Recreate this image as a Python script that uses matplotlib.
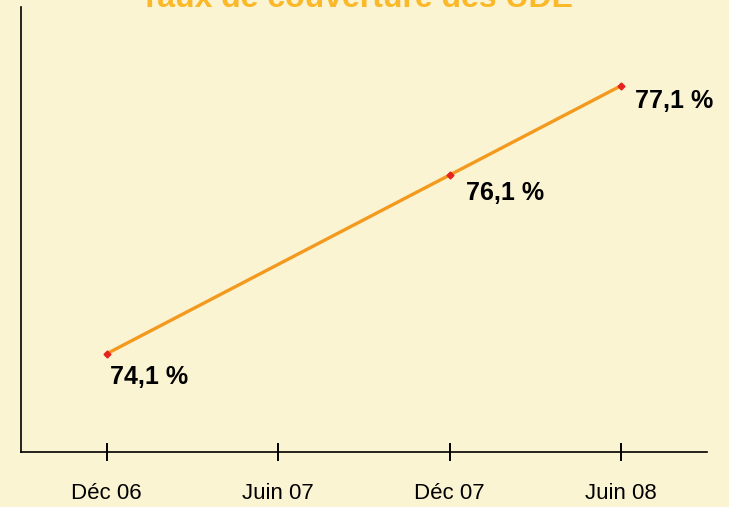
import matplotlib
matplotlib.use("Agg")
import matplotlib.pyplot as plt

# data
periods = ["Déc 06", "Juin 07", "Déc 07", "Juin 08"]
point_idx = [0, 2, 3]
values = [74.1, 76.1, 77.1]
labels = ["74,1 %", "76,1 %", "77,1 %"]
label_offsets = [(2, -17), (12, -13), (10, -11)]

bg = "#FAF4D3"
plt.rcParams['font.family'] = ['Liberation Sans', 'DejaVu Sans']

fig = plt.figure(figsize=(7.29, 5.07), dpi=100, facecolor=bg)
ax = fig.add_axes([21/729, 55/507, 686/729, 445/507])
ax.set_facecolor(bg)

ax.plot(point_idx, values, color="#F39A1E", lw=2.4, zorder=2)
ax.plot(point_idx, values, ls="none", marker="D", ms=3.5, color="#E5221E", zorder=3)

for i, v, lab, off in zip(point_idx, values, labels, label_offsets):
    ax.annotate(lab, (i, v), xytext=off, textcoords="offset points",
                ha="left", va="center", fontsize=18, fontweight="bold", color="black")

ax.set_xlim(-0.5, 3.5)
ax.set_ylim(73.0, 77.98)
ax.set_xticks(range(len(periods)))
ax.set_xticklabels(periods, fontsize=16)
ax.tick_params(axis="x", direction="inout", length=13, width=1.4, pad=16, colors="black")
ax.set_yticks([])
for s in ["top", "right"]:
    ax.spines[s].set_visible(False)
for s in ["left", "bottom"]:
    ax.spines[s].set_linewidth(1.2)

fig.text(357/729, 1 - 7/507, "Taux de couverture des UDE", ha="center", va="baseline",
         fontsize=23, fontweight="bold", color="#FBB829")

fig.savefig("out.png", dpi=100, facecolor=bg)
